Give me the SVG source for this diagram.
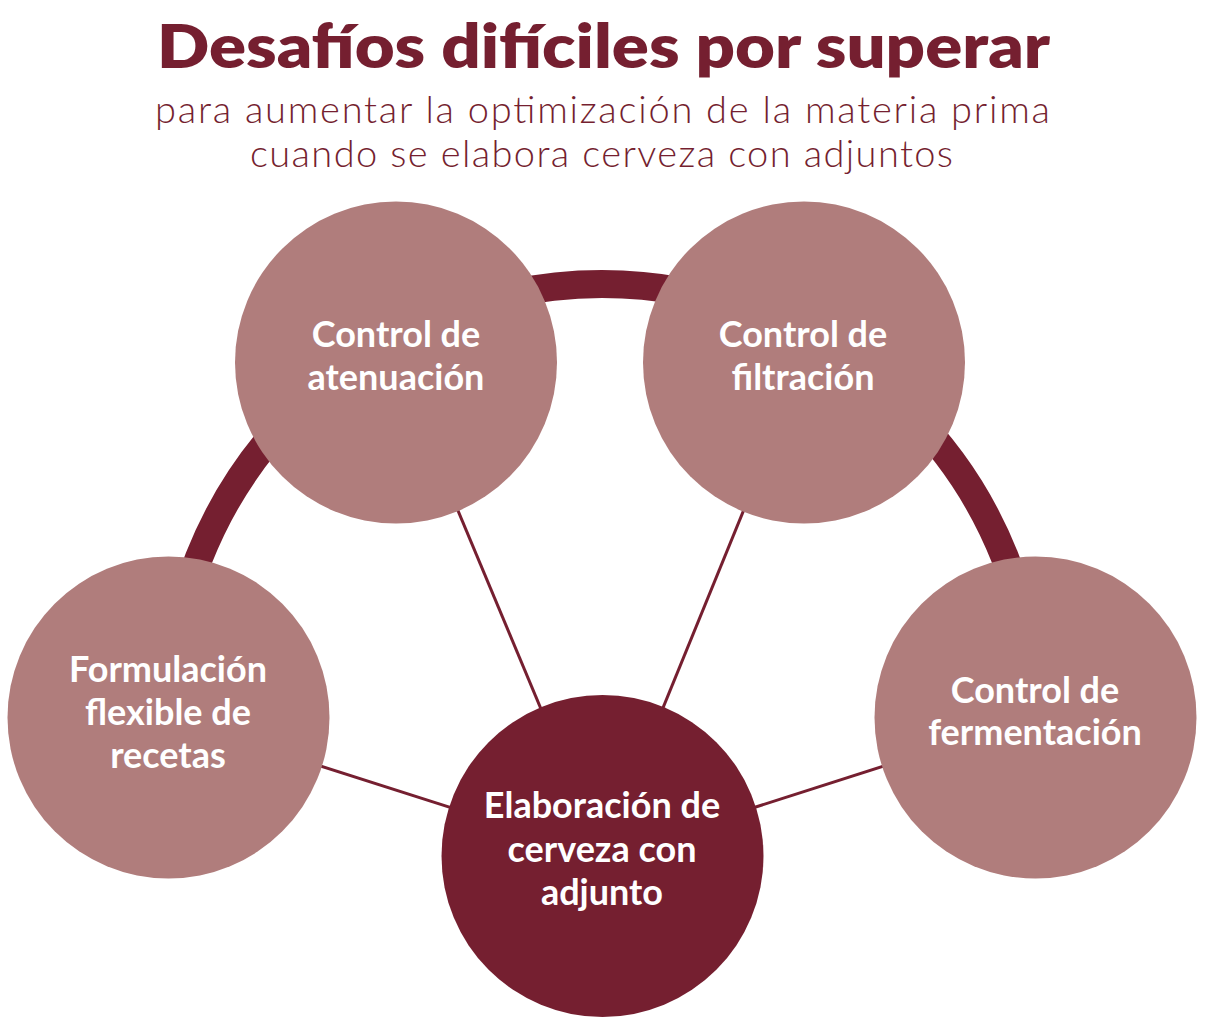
<svg xmlns="http://www.w3.org/2000/svg" width="1208" height="1023" viewBox="0 0 1208 1023">
  <style>
    .title { font-family: Lato, "Liberation Sans", sans-serif; font-weight: 800; font-size: 61px; fill: #751F30; }
    .sub { font-family: Lato, "Liberation Sans", sans-serif; font-weight: 300; font-size: 38px; fill: #751F30; }
    .lbl { font-family: Lato, "Liberation Sans", sans-serif; font-weight: 700; font-size: 36px; fill: #FFFFFF; text-anchor: middle; }
    .light { fill: #B07D7C; }
    .dark { fill: #751F30; }
    .arc { fill: none; stroke: #751F30; stroke-width: 28; }
    .link { stroke: #751F30; stroke-width: 3; fill: none; }
  </style>
  <rect width="1208" height="1023" fill="#FFFFFF"/>
  <g id="header">
    <text class="title" x="157" y="68" textLength="893" lengthAdjust="spacingAndGlyphs">Desafíos difíciles por superar</text>
    <text class="sub" x="155" y="123" textLength="895" lengthAdjust="spacing">para aumentar la optimización de la materia prima</text>
    <text class="sub" x="250" y="167" textLength="703" lengthAdjust="spacing">cuando se elabora cerveza con adjuntos</text>
  </g>
  <g id="connectors">
    <path class="arc" d="M 168.5 717.5 A 433.5 433.5 0 0 1 1035.5 717.5"/>
    <line class="link" x1="396" y1="362.5" x2="602.5" y2="856"/>
    <line class="link" x1="804" y1="362.5" x2="602.5" y2="856"/>
    <line class="link" x1="168.5" y1="717.5" x2="602.5" y2="856"/>
    <line class="link" x1="1035.5" y1="717.5" x2="602.5" y2="856"/>
  </g>
  <g id="node-atenuacion">
    <circle class="light" cx="396" cy="362.5" r="161"/>
    <text class="lbl" x="396" y="347">Control de</text>
    <text class="lbl" x="396" y="390">atenuación</text>
  </g>
  <g id="node-filtracion">
    <circle class="light" cx="804" cy="362.5" r="161"/>
    <text class="lbl" x="803" y="347">Control de</text>
    <text class="lbl" x="803" y="390">filtración</text>
  </g>
  <g id="node-formulacion">
    <circle class="light" cx="168.5" cy="717.5" r="161"/>
    <text class="lbl" x="168" y="682">Formulación</text>
    <text class="lbl" x="168" y="725">flexible de</text>
    <text class="lbl" x="168" y="768">recetas</text>
  </g>
  <g id="node-fermentacion">
    <circle class="light" cx="1035.5" cy="717.5" r="161"/>
    <text class="lbl" x="1035" y="703">Control de</text>
    <text class="lbl" x="1035" y="745">fermentación</text>
  </g>
  <g id="node-elaboracion">
    <circle class="dark" cx="602.5" cy="856" r="161"/>
    <text class="lbl" x="602" y="818">Elaboración de</text>
    <text class="lbl" x="602" y="862">cerveza con</text>
    <text class="lbl" x="602" y="905">adjunto</text>
  </g>
</svg>
